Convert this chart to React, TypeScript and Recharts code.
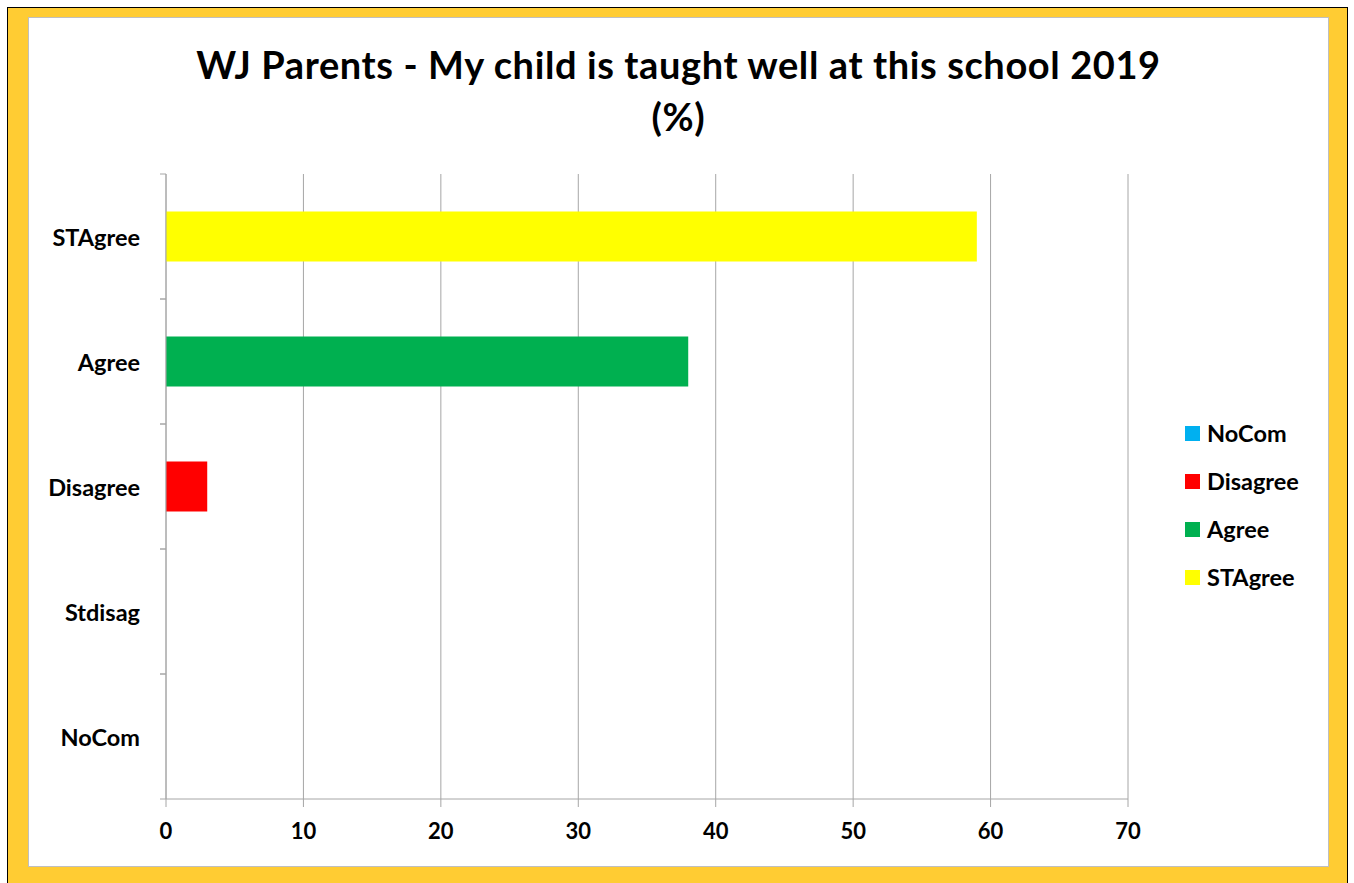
import { Bar, BarChart, CartesianGrid, Legend, XAxis, YAxis } from "recharts";

const categories = ["STAgree", "Agree", "Disagree", "Stdisag", "NoCom"];
const values = [59, 38, 3, 0, 0];
const legendSeries = ["NoCom", "Disagree", "Agree", "STAgree"];
const seriesColors: { [key: string]: string } = {
    NoCom: "#00B0F0",
    Disagree: "#FF0000",
    Agree: "#00B050",
    STAgree: "#FFFF00",
};
const xTicks = [0, 10, 20, 30, 40, 50, 60, 70];

const data = categories.map((cat, i) => ({ cat, [cat]: values[i] }));

const FONT = "Lato, 'Open Sans', sans-serif";
const GRID = "#A6A6A6";

const CatTick = (props: any) => {
    const { x, y, payload } = props;
    const off = payload.offset ?? 0;
    return (
        <g>
            <text
                x={x}
                y={y}
                textAnchor="end"
                dominantBaseline="central"
                fontSize={23.5}
                fontWeight={700}
                fill="#000"
            >
                {payload.value}
            </text>
            <line x1={x + 20} x2={x + 26} y1={y - off} y2={y - off} stroke={GRID} />
            <line x1={x + 20} x2={x + 26} y1={y + off} y2={y + off} stroke={GRID} />
        </g>
    );
};

// legend drawn in the series order, not the sorted payload order
const LegendBox = () => (
    <div style={{ fontFamily: FONT }}>
        {legendSeries.map((s) => (
            <div
                key={s}
                style={{
                    display: "flex",
                    alignItems: "center",
                    height: 48,
                    fontSize: 23.5,
                    fontWeight: 700,
                    whiteSpace: "nowrap",
                }}
            >
                <span
                    style={{
                        flexShrink: 0,
                        width: 15,
                        height: 15,
                        background: seriesColors[s],
                        marginRight: 7,
                    }}
                />
                {s}
            </div>
        ))}
    </div>
);

const App = () => {
    return (
        <div
            style={{
                position: "absolute",
                left: 7,
                top: 7,
                width: 1339,
                height: 900,
                border: "1px solid #000",
                background: "#FFCC33",
            }}
        >
            <div
                style={{
                    position: "absolute",
                    left: 20,
                    top: 9,
                    width: 1299,
                    height: 848,
                    border: "1px solid #BFBFBF",
                    background: "#fff",
                }}
            >
                <div
                    style={{
                        position: "absolute",
                        left: 0,
                        top: 20,
                        width: 1299,
                        textAlign: "center",
                        fontFamily: FONT,
                        fontWeight: 700,
                        fontSize: 38,
                        letterSpacing: 0.6,
                        lineHeight: "52px",
                        color: "#000",
                    }}
                >
                    WJ Parents - My child is taught well at this school 2019
                    <br />
                    (%)
                </div>
                <BarChart
                    width={1299}
                    height={848}
                    data={data}
                    layout="vertical"
                    barCategoryGap="30%"
                    margin={{ top: 156, right: 200, bottom: 27, left: 0 }}
                    style={{ fontFamily: FONT }}
                >
                    <CartesianGrid horizontal={false} stroke={GRID} />
                    <XAxis
                        type="number"
                        domain={[0, 70]}
                        ticks={xTicks}
                        interval={0}
                        height={40}
                        tickSize={8}
                        tickMargin={16}
                        stroke={GRID}
                        tick={{ fill: "#000", fontSize: 22, fontWeight: 700 }}
                    />
                    <YAxis
                        type="category"
                        dataKey="cat"
                        width={137}
                        tickSize={0}
                        tickLine={false}
                        tickMargin={26}
                        stroke={GRID}
                        tick={<CatTick />}
                        interval={0}
                    />
                    <Legend
                        layout="vertical"
                        content={<LegendBox />}
                        wrapperStyle={{ left: 1156, top: 391, width: 0, height: 0 }}
                    />
                    {legendSeries.map((s) => (
                        <Bar
                            key={s}
                            dataKey={s}
                            stackId="a"
                            fill={seriesColors[s]}
                            isAnimationActive={false}
                        />
                    ))}
                </BarChart>
            </div>
        </div>
    );
};

export default App;
